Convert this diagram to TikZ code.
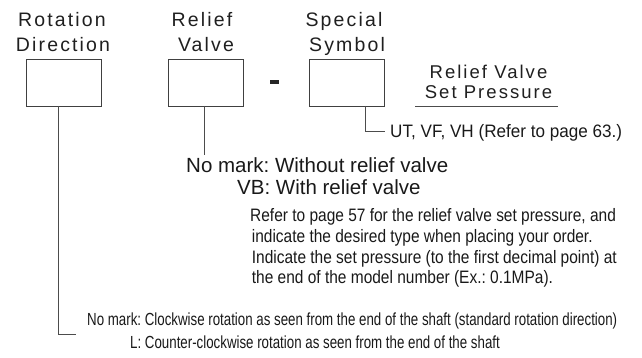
\documentclass[tikz,border=0pt]{standalone}
\usepackage{fontspec}
\setmainfont{Liberation Sans}
\newfontfamily\trackfont[LetterSpace=11]{Liberation Sans}
\newfontfamily\parafont[FakeStretch=0.86]{Liberation Sans}
\newfontfamily\bottomfont[FakeStretch=0.76]{Liberation Sans}
\newfontfamily\utfont[FakeStretch=0.95]{Liberation Sans}
\usetikzlibrary{calc}
\frenchspacing
\tikzset{
  codebox/.style={draw=black!75, line width=0.9pt, minimum width=75.7pt, minimum height=47pt, inner sep=0pt},
  conn/.style={draw=black!70, line width=0.8pt},
  toplab/.style={inner sep=0pt, anchor=base, text=black!88, font=\trackfont\fontsize{19.5}{23}\selectfont},
  rightlab/.style={inner sep=0pt, anchor=base, text=black!88, font=\trackfont\fontsize{18.5}{22}\selectfont},
  midtxt/.style={inner sep=0pt, anchor=base west, text=black!90, font=\fontsize{20.5}{24}\selectfont},
  uttxt/.style={inner sep=0pt, anchor=base west, text=black!90, font=\utfont\fontsize{18}{22}\selectfont},
  paratxt/.style={inner sep=0pt, anchor=base west, text=black!90, font=\parafont\fontsize{18}{22}\selectfont},
  bottxt/.style={inner sep=0pt, anchor=base west, text=black!90, font=\bottomfont\fontsize{17.5}{21}\selectfont},
}
\begin{document}
\frenchspacing
\begin{tikzpicture}[x=1pt,y=-1pt]
\useasboundingbox (0,0) rectangle (642,358);
% header labels
\node[toplab] (rot) at (62,27) {Rotation};
\node[toplab] (dir) at (63,52) {Direction};
\node[toplab] (rel) at (202,27) {Relief};
\node[toplab] (val) at (206,52) {Valve};
\node[toplab] (spe) at (344,27) {Special};
\node[toplab] (sym) at (347,52) {Symbol};
% boxes
\node[codebox] (b1) at (63.85,82.5) {};
\node[codebox] (b2) at (206,82.5) {};
\node[codebox] (b3) at (347,82.5) {};
% dash
\node[fill=black!85, inner sep=0pt, minimum width=9pt, minimum height=4.5pt] (dash) at (274.5,82.2) {};
% right label
\node[rightlab] (rv) at (488.5,79) {Relief Valve};
\node[rightlab] (sp) at (488.5,99) {Set Pressure};
\coordinate (ul1) at (415,106);
\coordinate (ul2) at (558,106);
\draw[conn] (ul1) -- (ul2);
% special symbol branch
\coordinate (c3top) at (365.7,106);
\coordinate (c3) at (365.7,131);
\coordinate (c3end) at (385,131);
\draw[conn] (c3top) -- (c3) -- (c3end);
\node[uttxt] (ut) at (390,138) {UT, VF, VH (Refer to page 63.)};
% relief valve branch
\coordinate (c2top) at (204.7,106);
\coordinate (c2) at (204.7,155);
\draw[conn] (c2top) -- (c2);
\node[midtxt] (nm) at (186,173) {No mark: Without relief valve};
\node[midtxt] (vb) at (237,195) {VB: With relief valve};
\node[paratxt] (p1) at (250,222) {Refer to page 57 for the relief valve set pressure, and};
\node[paratxt] (p2) at (251.7,242.5) {indicate the desired type when placing your order.};
\node[paratxt] (p3) at (251.7,263) {Indicate the set pressure (to the first decimal point) at};
\node[paratxt] (p4) at (251.7,283.5) {the end of the model number (Ex.: 0.1MPa).};
% rotation branch
\coordinate (c1top) at (58.7,106);
\coordinate (c1) at (58.7,334);
\coordinate (c1end) at (76,334);
\draw[conn] (c1top) -- (c1) -- (c1end);
\node[bottxt] (r1) at (87,325) {No mark: Clockwise rotation as seen from the end of the shaft (standard rotation direction)};
\node[bottxt] (r2) at (130,348) {L: Counter-clockwise rotation as seen from the end of the shaft};
\end{tikzpicture}
\end{document}
